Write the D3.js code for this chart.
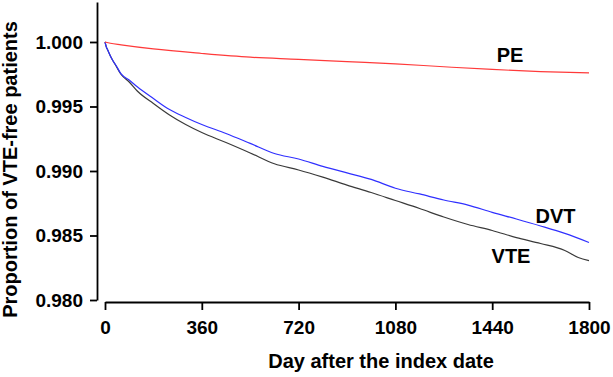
<!DOCTYPE html>
<html>
<head>
<meta charset="utf-8">
<script src="https://cdn.jsdelivr.net/npm/d3@7"></script>
<style>
  body { margin: 0; background: #fff; }
  svg { display: block; }
  text { font-family: "Liberation Sans", Arial, Helvetica, sans-serif; font-weight: bold; fill: #000; }
</style>
</head>
<body>
<svg id="chart" width="613" height="377"></svg>
<script>
// ---- data ----
const xTicks = [0, 360, 720, 1080, 1440, 1800];
const yTicks = [0.980, 0.985, 0.990, 0.995, 1.000];

const dvtDays = [0, 5, 10, 20, 30, 40, 60, 90, 120, 180, 240, 300, 360, 450, 540, 630, 720, 810, 900, 990, 1080, 1170, 1260, 1350, 1440, 1530, 1620, 1710, 1800];
const dvtVals = [1.0000, 0.99961, 0.99938, 0.99892, 0.99853, 0.99822, 0.99752, 0.99705, 0.99653, 0.99562, 0.99476, 0.99415, 0.99360, 0.99291, 0.99214, 0.99136, 0.99093, 0.99036, 0.98985, 0.98935, 0.98866, 0.98822, 0.98775, 0.98736, 0.98679, 0.98628, 0.98574, 0.98516, 0.98446];

const vteDays = [0, 5, 10, 20, 30, 40, 60, 90, 120, 180, 240, 300, 360, 450, 540, 630, 720, 810, 900, 990, 1080, 1170, 1260, 1350, 1440, 1530, 1620, 1710, 1760, 1800];
const vteVals = [1.0000, 0.99961, 0.99938, 0.99892, 0.99853, 0.99818, 0.99748, 0.99690, 0.99620, 0.99523, 0.99434, 0.99360, 0.99298, 0.99221, 0.99140, 0.99056, 0.99008, 0.98952, 0.98891, 0.98833, 0.98771, 0.98709, 0.98643, 0.98585, 0.98539, 0.98484, 0.98438, 0.98384, 0.98329, 0.98305];

const peDays = [0, 20, 60, 180, 360, 540, 720, 900, 1080, 1260, 1440, 1620, 1800];
const peVals = [1.0000, 0.99990, 0.99978, 0.99946, 0.99911, 0.99882, 0.99866, 0.99848, 0.99831, 0.99808, 0.99787, 0.99771, 0.99760];

const seriesNames = ["PE", "DVT", "VTE"];
const seriesColors = ["#ff3a3a", "#3030ff", "#3a3a3a"];

// ---- drawing ----
const svg = d3.select("#chart");

const x = d3.scaleLinear().domain([0, 1800]).range([105, 589]);
const y = d3.scaleLinear().domain([0.980, 1.0031]).range([300, 2]);

// Y axis
const yAxis = d3.axisLeft(y)
  .tickValues(yTicks)
  .tickFormat(d3.format(".3f"))
  .tickSize(7)
  .tickSizeOuter(0)
  .tickPadding(7);
const gy = svg.append("g").attr("transform", "translate(97,0)").call(yAxis);
gy.selectAll("path, line").attr("stroke", "#000").attr("stroke-width", 1.8);
gy.selectAll("text").style("font-size", "19px").style("font-family", "'Liberation Sans', Arial, sans-serif").style("font-weight", "bold");

// X axis
const xAxis = d3.axisBottom(x)
  .tickValues(xTicks)
  .tickFormat(d3.format("d"))
  .tickSize(8)
  .tickSizeOuter(0)
  .tickPadding(11);
const gx = svg.append("g").attr("transform", "translate(0,302)").call(xAxis);
gx.selectAll("path, line").attr("stroke", "#000").attr("stroke-width", 1.8);
gx.selectAll("text").style("font-size", "19px").style("font-family", "'Liberation Sans', Arial, sans-serif").style("font-weight", "bold");

// Lines
const line = d3.line().curve(d3.curveMonotoneX).x(d => x(d[0])).y(d => y(d[1]));
const series = [
  d3.zip(peDays, peVals),
  d3.zip(dvtDays, dvtVals),
  d3.zip(vteDays, vteVals)
];
[2, 1, 0].forEach(i => {
  svg.append("path")
    .datum(series[i])
    .attr("fill", "none")
    .attr("stroke", seriesColors[i])
    .attr("stroke-width", 1.2)
    .attr("d", line);
});

// Series labels
const labelPos = [
  {name: "PE", cx: 510, cy: 62},
  {name: "DVT", cx: 555.5, cy: 223},
  {name: "VTE", cx: 511, cy: 263}
];
labelPos.forEach(p => {
  svg.append("text")
    .attr("x", p.cx).attr("y", p.cy)
    .attr("text-anchor", "middle")
    .style("font-size", "20px")
    .text(p.name);
});

// Axis titles
svg.append("text")
  .attr("x", 381).attr("y", 368)
  .attr("text-anchor", "middle")
  .style("font-size", "20px")
  .text("Day after the index date");

svg.append("text")
  .attr("transform", "translate(16.5,169.5) rotate(-90)")
  .attr("text-anchor", "middle")
  .style("font-size", "20px")
  .text("Proportion of VTE-free patients");
</script>
</body>
</html>
